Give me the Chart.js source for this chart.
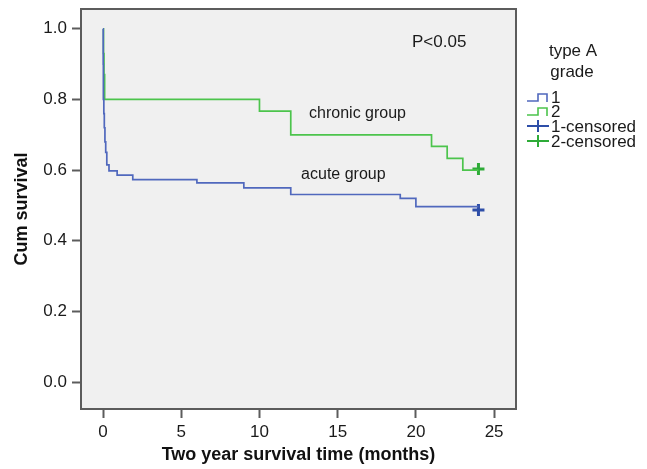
<!DOCTYPE html>
<html>
<head>
<meta charset="utf-8">
<script src="https://cdn.jsdelivr.net/npm/chart.js@4/dist/chart.umd.min.js"></script>
<style>
body{margin:0;background:#fff;}
</style>
</head>
<body>
<canvas id="km" width="647" height="469"></canvas>
<script>

// grade 1 (acute group)
const acuteTime = [0, 0.01, 0.02, 0.05, 0.08, 0.12, 0.17, 0.24, 0.38, 0.9, 1.9, 6, 9, 12, 19, 20, 24];
const acuteSurv = [1.0, 0.90, 0.80, 0.76, 0.72, 0.68, 0.65, 0.615, 0.598, 0.586, 0.573, 0.564, 0.55, 0.531, 0.52, 0.497, 0.497];

// grade 2 (chronic group)
const chronicTime = [0, 0.03, 0.06, 0.1, 10, 12, 21, 22, 23, 24];
const chronicSurv = [1.0, 0.93, 0.87, 0.8, 0.767, 0.70, 0.667, 0.633, 0.60, 0.60];

// censored
const acuteCensorTime = [24];
const acuteCensorSurv = [0.487];
const chronicCensorTime = [24];
const chronicCensorSurv = [0.603];

const xTicks = [0, 5, 10, 15, 20, 25];
const yTicks = [0, 0.2, 0.4, 0.6, 0.8, 1.0];

const legendTitle = ["type A", "grade"];
const legendLabels = ["1", "2", "1-censored", "2-censored"];

const blue = "#5068bd";
const blueDark = "#2e4ea8";
const green = "#4cc44c";
const greenDark = "#2eab38";

const FONT = "'Liberation Sans', Arial, Helvetica, sans-serif";

function pts(xs, ys){
return xs.map((x,i)=>({x:x, y:ys[i]}));
}

const notes = [
{text:"P<0.05", x:19.75, y:0.961, size:17},
{text:"chronic group", x:13.17, y:0.76, size:16},
{text:"acute group", x:12.66, y:0.588, size:16}
];

const kmPlugin = {
id:"km",
beforeDraw(c){
const a=c.chartArea, ctx=c.ctx;
ctx.save();
ctx.fillStyle="#f0f0f0";
ctx.fillRect(a.left,a.top,a.right-a.left,a.bottom-a.top);
ctx.restore();
},
afterDraw(c){
const a=c.chartArea, ctx=c.ctx;
const xs=c.scales.x, ys=c.scales.y;
ctx.save();
ctx.strokeStyle="#5c5c5c";
ctx.lineWidth=2;
ctx.strokeRect(a.left,a.top,a.right-a.left,a.bottom-a.top);

ctx.fillStyle="#1a1a1a";
ctx.textBaseline="middle";
ctx.textAlign="left";
notes.forEach(n=>{
ctx.font=n.size+"px "+FONT;
ctx.fillText(n.text, xs.getPixelForValue(n.x), ys.getPixelForValue(n.y));
});

// legend
ctx.font="17px "+FONT;
ctx.textAlign="center";
ctx.fillText(legendTitle[0],573,51);
ctx.fillText(legendTitle[1],572,72);

const rows=[97,111,126,141];
const cols=[blue,green,blueDark,greenDark];
ctx.textAlign="left";
legendLabels.forEach((lab,i)=>{
const y=rows[i];
ctx.strokeStyle=cols[i];
ctx.lineWidth=1.6;
ctx.beginPath();
if(i<2){
ctx.moveTo(527,y+4);
ctx.lineTo(538,y+4);
ctx.lineTo(538,y-3);
ctx.lineTo(547,y-3);
ctx.lineTo(547,y+5);
}else{
ctx.lineWidth=2;
ctx.moveTo(527,y);
ctx.lineTo(549,y);
ctx.moveTo(538,y-6);
ctx.lineTo(538,y+6);
}
ctx.stroke();
ctx.fillStyle="#1a1a1a";
ctx.fillText(lab,551,y+1);
});
ctx.restore();
}
};

new Chart(document.getElementById("km"),{
type:"scatter",
data:{
datasets:[
{label:"1", data:pts(acuteTime,acuteSurv), showLine:true, stepped:true, borderColor:blue, borderWidth:1.7, pointRadius:0, fill:false},
{label:"2", data:pts(chronicTime,chronicSurv), showLine:true, stepped:true, borderColor:green, borderWidth:1.7, pointRadius:0, fill:false},
{label:"1-censored", data:pts(acuteCensorTime,acuteCensorSurv), pointStyle:"cross", pointRadius:6, borderWidth:3, borderColor:blueDark, backgroundColor:blueDark},
{label:"2-censored", data:pts(chronicCensorTime,chronicCensorSurv), pointStyle:"cross", pointRadius:6, borderWidth:3, borderColor:greenDark, backgroundColor:greenDark}
]
},
options:{
responsive:false,
animation:false,
devicePixelRatio:1,
layout:{padding:{top:8,right:131,left:0,bottom:0}},
plugins:{legend:{display:false}, tooltip:{enabled:false}},
scales:{
x:{
type:"linear",
min:-1.41,
max:26.4,
afterBuildTicks(s){ s.ticks = xTicks.map(v=>({value:v})); },
afterFit(s){ s.height = 60; s.paddingLeft = 0; s.paddingRight = 0; },
grid:{drawOnChartArea:false, drawTicks:true, tickLength:9, tickColor:"#5c5c5c", tickWidth:2},
border:{display:false},
ticks:{color:"#1a1a1a", font:{family:FONT, size:17}, padding:4, maxRotation:0},
title:{display:true, text:"Two year survival time (months)", color:"#111", font:{family:FONT, size:18, weight:"bold"}, padding:{top:0,bottom:3}}
},
y:{
type:"linear",
min:-0.076,
max:1.056,
afterBuildTicks(s){ s.ticks = yTicks.map(v=>({value:v})); },
afterFit(s){ s.width = 81; s.paddingTop = 0; s.paddingBottom = 0; },
grid:{drawOnChartArea:false, drawTicks:true, tickLength:9, tickColor:"#5c5c5c", tickWidth:2},
border:{display:false},
ticks:{color:"#1a1a1a", font:{family:FONT, size:17}, padding:5, callback:v=>v.toFixed(1)},
title:{display:true, text:"Cum survival", color:"#111", font:{family:FONT, size:18, weight:"bold"}, padding:{top:11,bottom:0}}
}
}
},
plugins:[kmPlugin]
});

</script>
</body>
</html>
